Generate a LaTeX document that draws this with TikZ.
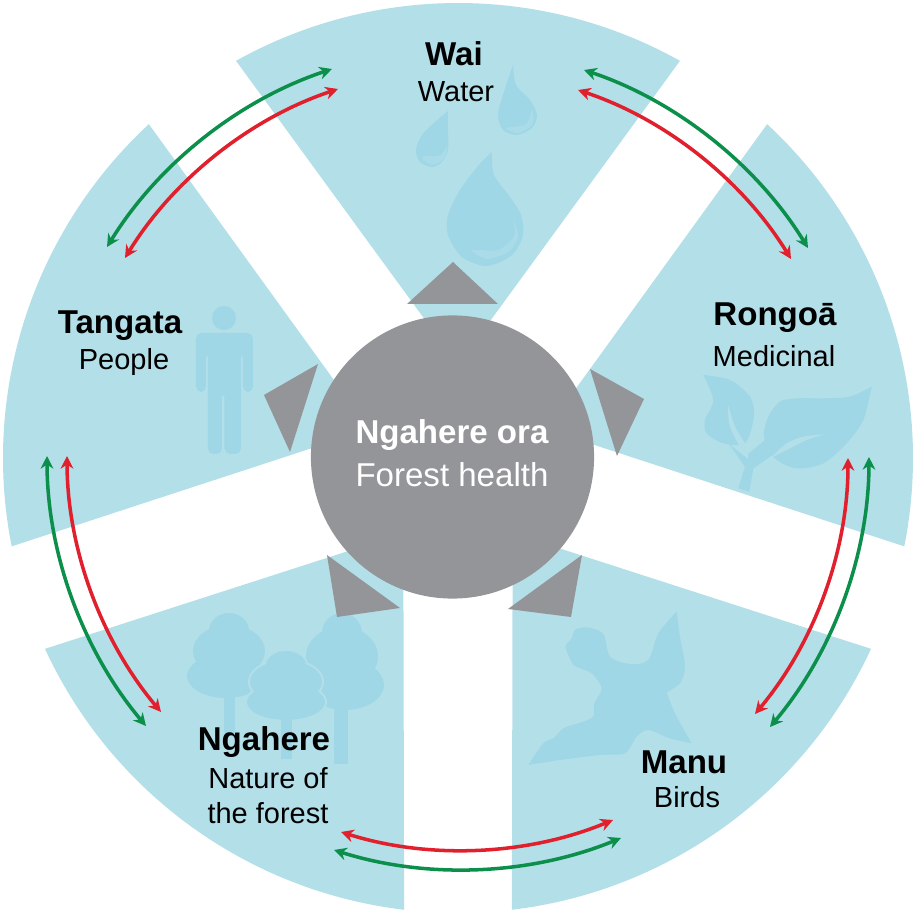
\documentclass[tikz,border=0pt]{standalone}
\usepackage{fontspec}
\setmainfont{Liberation Sans}
\usepackage{tikz}
\usetikzlibrary{arrows.meta}
\definecolor{sectorblue}{HTML}{B3DFE8}
\definecolor{iconblue}{HTML}{9FD7E6}
\definecolor{iconlight}{HTML}{A9DBE8}
\definecolor{hubgrey}{HTML}{939598}
\definecolor{arcgreen}{HTML}{0B8F4A}
\definecolor{arcred}{HTML}{E0202C}
\tikzset{sector/.style={fill=sectorblue}}
\tikzset{icon/.style={fill=iconblue}}
\tikzset{pointer/.style={fill=hubgrey}}
\tikzset{hub/.style={circle,fill=hubgrey,minimum size=2.83cm,inner sep=0pt}}
\tikzset{title/.style={font=\fontsize{9.4}{11}\selectfont\bfseries,inner sep=0pt}}
\tikzset{sublabel/.style={font=\fontsize{8.25}{10}\selectfont,inner sep=0pt}}
\tikzset{exchange/.style={line width=1pt,{Stealth[length=3.6pt,width=3.6pt]}-{Stealth[length=3.6pt,width=3.6pt]}}}
% cx, top, yscale, shift of the lowest lobe
\newcommand{\treeicon}[4]{
  \begin{scope}[shift={(#1,#2)},yscale=#3]
    \draw[sectorblue,line width=1.2pt] (0,18) ellipse[x radius=20,y radius=18]
      (0,38) ellipse[x radius=36,y radius=26] (#4,63) ellipse[x radius=39,y radius=22];
    \fill[icon] (0,18) ellipse[x radius=20,y radius=18]
      (0,38) ellipse[x radius=36,y radius=26] (#4,63) ellipse[x radius=39,y radius=22];
  \end{scope}
}

\begin{document}
\begin{tikzpicture}[x=0.01cm,y=-0.01cm]
  \useasboundingbox (0,0) rectangle (917,915);

  \foreach \a in {0,72,144,216,288}{
    \begin{scope}[shift={(458,458)},rotate=\a]
      \fill[sector] (-90:93) -- (-119.2:455) arc[start angle=-119.2,end angle=-60.8,radius=455] -- cycle;
    \end{scope}
  }

  % drops
  \fill[icon] plot[smooth] coordinates {(492,152) (494,175) (510,197) (521,215) (523,235) (512,255) (487,266) (462,257) (448,235) (448,215) (460,190) (478,166) (492,152)} -- cycle;
  \fill[iconlight] plot[smooth] coordinates {(513,218) (514,236) (498,250) (472,250) (487,259) (508,252) (518,237) (513,218)} -- cycle;
  \fill[icon] plot[smooth] coordinates {(513,65) (516,85) (530,100) (537,115) (532,128) (517,135) (503,130) (498,115) (503,95) (513,65)} -- cycle;
  \fill[iconlight] plot[smooth] coordinates {(532,108) (526,124) (506,128) (518,133) (533,124) (532,108)} -- cycle;
  \fill[icon] plot[smooth] coordinates {(448,111) (448,130) (448,150) (442,162) (432,167) (420,162) (416,150) (422,135) (435,122) (448,111)} -- cycle;
  \fill[iconlight] plot[smooth] coordinates {(447,145) (440,155) (422,157) (432,165) (445,158) (447,145)} -- cycle;

  % leaves
  \begin{scope}[shift={(590,280)},scale=0.3333]
    \fill[icon] plot[smooth] coordinates {(340,285) (420,300) (480,350) (492,410) (465,490) (400,490) (350,460) (345,420) (370,360) (340,285)} -- cycle;
    \fill[icon] plot[smooth] coordinates {(845,320) (780,350) (700,355) (620,355) (570,365) (535,410) (522,470) (555,535) (620,565) (700,550) (770,490) (820,420) (845,320)} -- cycle;
    \fill[icon] (415,490) -- (465,530) -- (525,480) -- (548,525) -- (490,565) -- (478,635) -- (445,625) -- (465,560) -- cycle;
    \fill[sector] plot[smooth] coordinates {(415,375) (420,440) (470,535) (470,500) (435,440) (415,375)} -- cycle;
    \fill[sector] plot[smooth] coordinates {(705,463) (640,470) (590,490) (548,530) (600,505) (650,480) (705,463)} -- cycle;
  \end{scope}

  % bird
  \begin{scope}[shift={(500,560)},scale=0.3333]
    \fill[icon] plot[smooth] coordinates {(85,615) (130,550) (160,535) (190,505) (235,490) (280,470) (283,430) (305,385) (275,340) (225,318) (207,290) (197,258) (215,235) (225,210) (262,202) (310,222) (330,290) (390,312) (445,300) (475,220) (530,155)}
      -- plot[smooth] coordinates {(530,155) (540,230) (555,320) (540,370) (500,397)}
      -- plot[smooth] coordinates {(500,397) (525,460) (575,550)}
      -- plot[smooth] coordinates {(575,550) (510,535) (445,510) (410,530) (375,580) (300,585) (180,600) (85,615)} -- cycle;
  \end{scope}

  % trees
  \treeicon{229}{613}{1}{-3}
  \fill[icon] (224,690) rectangle (235,733);
  \treeicon{342}{613}{1.14}{3}
  \fill[icon] (334,700) rectangle (348,764);
  \treeicon{286}{651}{0.81}{0}
  \fill[icon] (281,710) rectangle (292,759);

  % person
  \fill[icon] (224,318) circle[radius=12];
  \fill[icon,rounded corners=1.6pt] (196,392) -- (196,333) -- (253,333) -- (253,392) -- (243,392)
    -- (243,352) -- (241,352) -- (241,454) -- (224.5,454) -- (224.5,392) -- (222,392) -- (222,454)
    -- (208,454) -- (208,352) -- (206,352) -- (206,392) -- cycle;

  \node[hub] (forest) at (452.5,457) {};
  \fill[pointer] (407,304) -- (453,262) -- (498,304) -- cycle;
  \fill[pointer] (590,369) -- (644,399) -- (617,456) -- cycle;
  \fill[pointer] (582,555) -- (508,609) -- (571,617) -- cycle;
  \fill[pointer] (327,555) -- (337,617) -- (400,608) -- cycle;
  \fill[pointer] (318,364) -- (264,395) -- (290,452) -- cycle;

  \node[title,text=white] (forestmaori) at (452,435) {Ngahere ora};
  \node[sublabel,text=white,font=\fontsize{9.4}{11}\selectfont] (foresteng) at (452,475) {Forest health};
  \node[title] (wai) at (454,54) {Wai};
  \node[sublabel] (water) at (456,92) {Water};
  \node[title] (rongoa) at (775,318) {Rongoā};
  \node[sublabel] (medicinal) at (774,356) {Medicinal};
  \node[title] (manu) at (684,762) {Manu};
  \node[sublabel] (birds) at (687,797) {Birds};
  \node[title] (ngahere) at (264,742) {Ngahere};
  \node[sublabel] (nature) at (268,778) {Nature of};
  \node[sublabel] (theforest) at (268,813) {the forest};
  \node[title] (tangata) at (120,326) {Tangata};
  \node[sublabel] (people) at (124,362) {People};

  \foreach \n/\col/\xa/\ya/\xb/\yb in {
    wtg/arcgreen/107/247/332/69, wtr/arcred/125/258/338/89,
    wrg/arcgreen/584/70/808/248, wrr/arcred/578/90/791/259,
    rmg/arcgreen/869/457/770/727, rmr/arcred/848/458/755/714,
    mng/arcgreen/621/838/334/850, mnr/arcred/613/820/341/832,
    ntg/arcgreen/146/726/47/456, ntr/arcred/161/712/67/456}{
    \coordinate (\n a) at (\xa,\ya);
    \coordinate (\n b) at (\xb,\yb);
    \draw[exchange,color=\col] (\n a) to[bend left=20,looseness=0.87] (\n b);
  }
\end{tikzpicture}
\end{document}
